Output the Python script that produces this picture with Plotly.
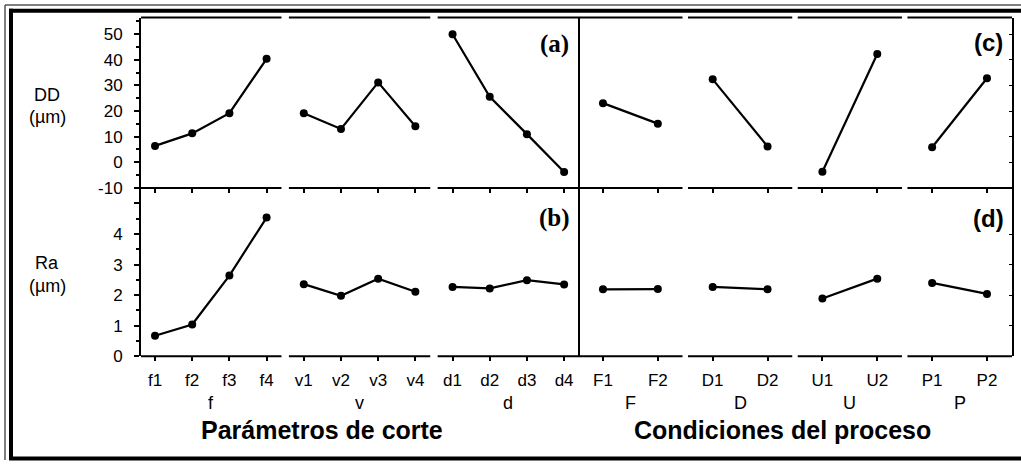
import plotly.graph_objects as go

W, H = 1021, 470

# ---------------- data ----------------
left_groups = ["f", "v", "d"]
left_cats = ["f1", "f2", "f3", "f4", "v1", "v2", "v3", "v4", "d1", "d2", "d3", "d4"]
right_groups = ["F", "D", "U", "P"]
right_cats = ["F1", "F2", "D1", "D2", "U1", "U2", "P1", "P2"]

dd_f = [6.4, 11.3, 19.2, 40.4]
dd_v = [19.2, 13.0, 31.2, 14.1]
dd_d = [50.0, 25.6, 11.0, -3.8]
dd_F = [23.1, 15.1]
dd_D = [32.4, 6.2]
dd_U = [-3.7, 42.3]
dd_P = [5.9, 32.8]

ra_f = [0.67, 1.04, 2.64, 4.54]
ra_v = [2.36, 1.98, 2.54, 2.11]
ra_d = [2.27, 2.22, 2.49, 2.35]
ra_F = [2.19, 2.20]
ra_D = [2.27, 2.19]
ra_U = [1.89, 2.54]
ra_P = [2.40, 2.04]

dd_ticks = [-10, 0, 10, 20, 30, 40, 50]
ra_ticks = [0, 1, 2, 3, 4]

# ---------------- geometry helpers ----------------
def px(x):
    return x / W

def py(y):
    return 1 - y / H

X_L, X_MID, X_R = px(141), px(579), px(1012)
Y_TOP, Y_MID, Y_BOT = py(18), py(192), py(364)

FONT = "Liberation Sans, Arial, Helvetica, sans-serif"

def group_trace(groups_vals, xa, ya):
    xs, ys = [], []
    i = 0
    for vals in groups_vals:
        for v in vals:
            xs.append(i)
            ys.append(v)
            i += 1
        xs.append(None)
        ys.append(None)
    return go.Scatter(
        x=xs, y=ys, xaxis=xa, yaxis=ya, mode="lines+markers",
        line=dict(color="black", width=2.2),
        marker=dict(color="black", size=8),
        connectgaps=False, showlegend=False, hoverinfo="skip",
    )

fig = go.Figure()
fig.add_trace(group_trace([dd_f, dd_v, dd_d], "x", "y"))
fig.add_trace(group_trace([dd_F, dd_D, dd_U, dd_P], "x2", "y2"))
fig.add_trace(group_trace([ra_f, ra_v, ra_d], "x3", "y3"))
fig.add_trace(group_trace([ra_F, ra_D, ra_U, ra_P], "x4", "y4"))

nL, nR = len(left_cats), len(right_cats)
xl_range = [-0.377, nL - 1 + 0.40]
xr_range = [-0.437, nR - 1 + 0.456]

def xaxis(domain, rng, n, cats, labels, anchor):
    d = dict(
        domain=domain, range=rng, anchor=anchor,
        showgrid=False, zeroline=False, showline=False,
        tickmode="array", tickvals=list(range(n)), ticktext=cats,
        ticks="outside", ticklen=4, tickwidth=1.5, tickcolor="black",
        showticklabels=labels,
        tickfont=dict(family=FONT, size=17, color="black"),
        fixedrange=True,
    )
    if labels:
        d["ticklabelstandoff"] = 4
    return d

common_y = dict(showgrid=False, zeroline=False, fixedrange=True,
                tickfont=dict(family=FONT, size=17, color="black"),
                tickcolor="black")

layout = dict(
    width=W, height=H,
    margin=dict(l=0, r=0, t=0, b=0),
    paper_bgcolor="white", plot_bgcolor="white",
    showlegend=False,
    xaxis=xaxis([X_L, X_MID], xl_range, nL, left_cats, False, "y"),
    xaxis2=xaxis([X_MID, X_R], xr_range, nR, right_cats, False, "y2"),
    xaxis3=xaxis([X_L, X_MID], xl_range, nL, left_cats, True, "y3"),
    xaxis4=xaxis([X_MID, X_R], xr_range, nR, right_cats, True, "y4"),
    yaxis=dict(domain=[Y_MID, Y_TOP], range=[-10, 56.5], anchor="x",
               showline=True, linecolor="black", linewidth=2,
               tickmode="array", tickvals=dd_ticks,
               ticktext=[str(t) for t in dd_ticks],
               ticks="outside", ticklen=5, tickwidth=1.5,
               minor=dict(dtick=5, tick0=0, ticks="outside", ticklen=3,
                          tickcolor="black", showgrid=False),
               ticklabelstandoff=8, **common_y),
    yaxis2=dict(domain=[Y_MID, Y_TOP], range=[-10, 56.5], anchor="x2",
                side="right", showline=True, linecolor="black", linewidth=1.5,
                tickmode="array", tickvals=dd_ticks, ticks="inside",
                ticklen=3, tickwidth=1, showticklabels=False, **common_y),
    yaxis3=dict(domain=[Y_BOT, Y_MID], range=[0, 5.51], anchor="x3",
                showline=True, linecolor="black", linewidth=2,
                tickmode="array", tickvals=ra_ticks + [5],
                ticktext=[str(t) for t in ra_ticks] + [""],
                ticks="outside", ticklen=5, tickwidth=1.5,
                minor=dict(dtick=0.5, tick0=0, ticks="outside", ticklen=3,
                           tickcolor="black", showgrid=False),
                ticklabelstandoff=8, **common_y),
    yaxis4=dict(domain=[Y_BOT, Y_MID], range=[0, 5.51], anchor="x4",
                side="right", showline=True, linecolor="black", linewidth=1.5,
                tickmode="array", tickvals=ra_ticks, ticks="inside",
                ticklen=3, tickwidth=1, showticklabels=False, **common_y),
)
fig.update_layout(**layout)

shapes = []
# group frame segments (top, middle, bottom lines)
def seg_lines(groups_sizes, xref, rng, pad, yref_dom, ys):
    start = 0
    for gi, size in enumerate(groups_sizes):
        x0 = start - pad
        x1 = start + size - 1 + pad
        if gi == 0:
            x0 = rng[0]
        if gi == len(groups_sizes) - 1:
            x1 = rng[1]
        for yy in ys:
            shapes.append(dict(type="line", xref=xref, yref=yref_dom,
                               x0=x0, x1=x1, y0=yy, y1=yy,
                               line=dict(color="black", width=2)))
        start += size

left_sizes = [len(dd_f), len(dd_v), len(dd_d)]
right_sizes = [len(dd_F), len(dd_D), len(dd_U), len(dd_P)]
seg_lines(left_sizes, "x", xl_range, 0.40, "y domain", [0, 1])
seg_lines(right_sizes, "x2", xr_range, 0.45, "y2 domain", [0, 1])
seg_lines(left_sizes, "x3", xl_range, 0.40, "y3 domain", [0])
seg_lines(right_sizes, "x4", xr_range, 0.45, "y4 domain", [0])

# divider between the two blocks
shapes.append(dict(type="line", xref="paper", yref="paper",
                   x0=X_MID, x1=X_MID, y0=Y_BOT, y1=Y_TOP,
                   line=dict(color="black", width=2)))

# outer double frame (right side cropped in the reference)
shapes.append(dict(type="line", xref="paper", yref="paper",
                   x0=px(5), x1=px(5), y0=py(5), y1=py(470),
                   line=dict(color="#555555", width=1.5)))
shapes.append(dict(type="line", xref="paper", yref="paper",
                   x0=px(5), x1=px(1021), y0=py(5), y1=py(5),
                   line=dict(color="#555555", width=1.5)))
shapes.append(dict(type="line", xref="paper", yref="paper",
                   x0=px(11), x1=px(11), y0=py(9), y1=py(470),
                   line=dict(color="black", width=4)))
shapes.append(dict(type="line", xref="paper", yref="paper",
                   x0=px(9), x1=px(1021), y0=py(11), y1=py(11),
                   line=dict(color="black", width=4)))
shapes.append(dict(type="line", xref="paper", yref="paper",
                   x0=px(9), x1=px(1021), y0=py(468.5), y1=py(468.5),
                   line=dict(color="black", width=4)))
fig.update_layout(shapes=shapes)

ann = []
def add_text(text, x, y, size, xref="paper", bold=False, family=FONT):
    ann.append(dict(text=("<b>%s</b>" % text) if bold else text,
                    x=x, y=y, xref=xref, yref="paper",
                    showarrow=False, xanchor="center", yanchor="middle",
                    font=dict(family=family, size=size, color="black")))

# y-axis titles
add_text("DD", px(47), py(97), 18)
add_text("(µm)", px(47), py(120), 18)
add_text("Ra", px(47), py(269), 18)
add_text("(µm)", px(47), py(292), 18)

# group labels
start = 0
for g, size in zip(left_groups, left_sizes):
    add_text(g, start + (size - 1) / 2, py(412), 18, xref="x3")
    start += size
start = 0
for g, size in zip(right_groups, right_sizes):
    add_text(g, start + (size - 1) / 2, py(412), 18, xref="x4")
    start += size

# section titles
add_text("Parámetros de corte", px(322), py(439), 25, bold=True)
add_text("Condiciones del proceso", px(782), py(439), 25, bold=True)

# panel labels
SERIF = "Liberation Serif, Times New Roman, serif"
add_text("(a)", px(554), py(45), 25, bold=True, family=SERIF)
add_text("(b)", px(554), py(223), 25, bold=True, family=SERIF)
add_text("(c)", px(988), py(43), 24, bold=True)
add_text("(d)", px(988), py(223), 24, bold=True)

fig.update_layout(annotations=ann)

fig.write_html("out.html")
